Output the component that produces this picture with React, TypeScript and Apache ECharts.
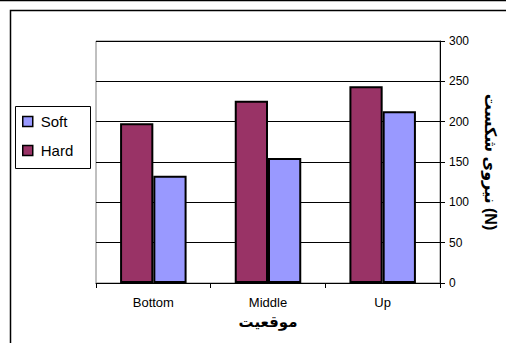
import React, { useEffect, useRef } from "react";
import * as echarts from "echarts";

const categories = ["Bottom", "Middle", "Up"];
const hardValues = [198, 226, 244];
const softValues = [133, 155, 213];
const legendNames = ["Soft", "Hard"];
const yAxisTitle = "نیروی شکست (N)";
const xAxisTitle = "موقعیت";

const FONT = "'Liberation Sans', Arial, 'DejaVu Sans', sans-serif";

export default function App() {
  const ref = useRef<HTMLDivElement>(null);
  useEffect(() => {
    if (!ref.current) return;
    const chart = echarts.init(ref.current, null, { renderer: "svg" });
    chart.setOption({
      animation: false,
      backgroundColor: "#fff",
      graphic: [
        {
          type: "line",
          shape: { x1: 0, y1: 0.5, x2: 506, y2: 0.5 },
          style: { stroke: "#000", lineWidth: 1.5 },
          silent: true,
        },
        {
          type: "rect",
          shape: { x: 10.5, y: 10.5, width: 600, height: 400 },
          style: { stroke: "#000", lineWidth: 1.5, fill: "none" },
          silent: true,
        },
        {
          type: "rect",
          shape: { x: 15.5, y: 106.5, width: 75, height: 62 },
          style: { stroke: "#000", lineWidth: 1, fill: "#fff" },
          silent: true,
          z: 1,
        },
      ],
      legend: {
        data: legendNames,
        orient: "vertical",
        left: 22,
        top: 114,
        padding: 0,
        itemGap: 14,
        itemWidth: 10,
        itemHeight: 10,
        icon: "rect",
        z: 5,
        itemStyle: { borderColor: "#000", borderWidth: 1.5 },
        textStyle: {
          fontFamily: FONT,
          fontSize: 15,
          color: "#000",
          padding: [0, 0, 0, 3],
        },
      },
      grid: {
        left: 96,
        right: 66,
        top: 41,
        bottom: 60,
        show: true,
        borderColor: "#808080",
        borderWidth: 1,
      },
      xAxis: {
        type: "category",
        data: categories,
        axisLine: { show: true, lineStyle: { color: "#000", width: 1 } },
        axisTick: { show: true, alignWithLabel: false, length: 5, lineStyle: { color: "#000" } },
        axisLabel: { fontFamily: FONT, fontSize: 13, color: "#000", margin: 13 },
        name: xAxisTitle,
        nameLocation: "middle",
        nameGap: 29,
        nameTextStyle: { fontFamily: FONT, fontSize: 15, fontWeight: "bold", color: "#000" },
      },
      yAxis: {
        type: "value",
        position: "right",
        min: 0,
        max: 300,
        interval: 50,
        axisLine: { show: true, lineStyle: { color: "#000", width: 1 } },
        axisTick: { show: true, inside: false, length: 5, lineStyle: { color: "#000" } },
        axisLabel: { fontFamily: FONT, fontSize: 12, color: "#000", margin: 9 },
        splitLine: { show: true, lineStyle: { color: "#000", width: 1 } },
        name: yAxisTitle,
        nameLocation: "middle",
        nameRotate: -90,
        nameGap: 42,
        nameTextStyle: { fontFamily: FONT, fontSize: 16, fontWeight: "bold", color: "#000" },
      },
      series: [
        {
          name: "Hard",
          type: "bar",
          data: hardValues,
          barGap: "0%",
          barCategoryGap: "42%",
          itemStyle: { color: "#993366", borderColor: "#000", borderWidth: 2 },
        },
        {
          name: "Soft",
          type: "bar",
          data: softValues,
          barGap: "0%",
          barCategoryGap: "42%",
          itemStyle: { color: "#9999FF", borderColor: "#000", borderWidth: 2 },
        },
      ],
    });
    return () => chart.dispose();
  }, []);
  return (
    <div
      ref={ref}
      style={{ position: "fixed", left: 0, top: 0, width: 506, height: 343 }}
    />
  );
}
